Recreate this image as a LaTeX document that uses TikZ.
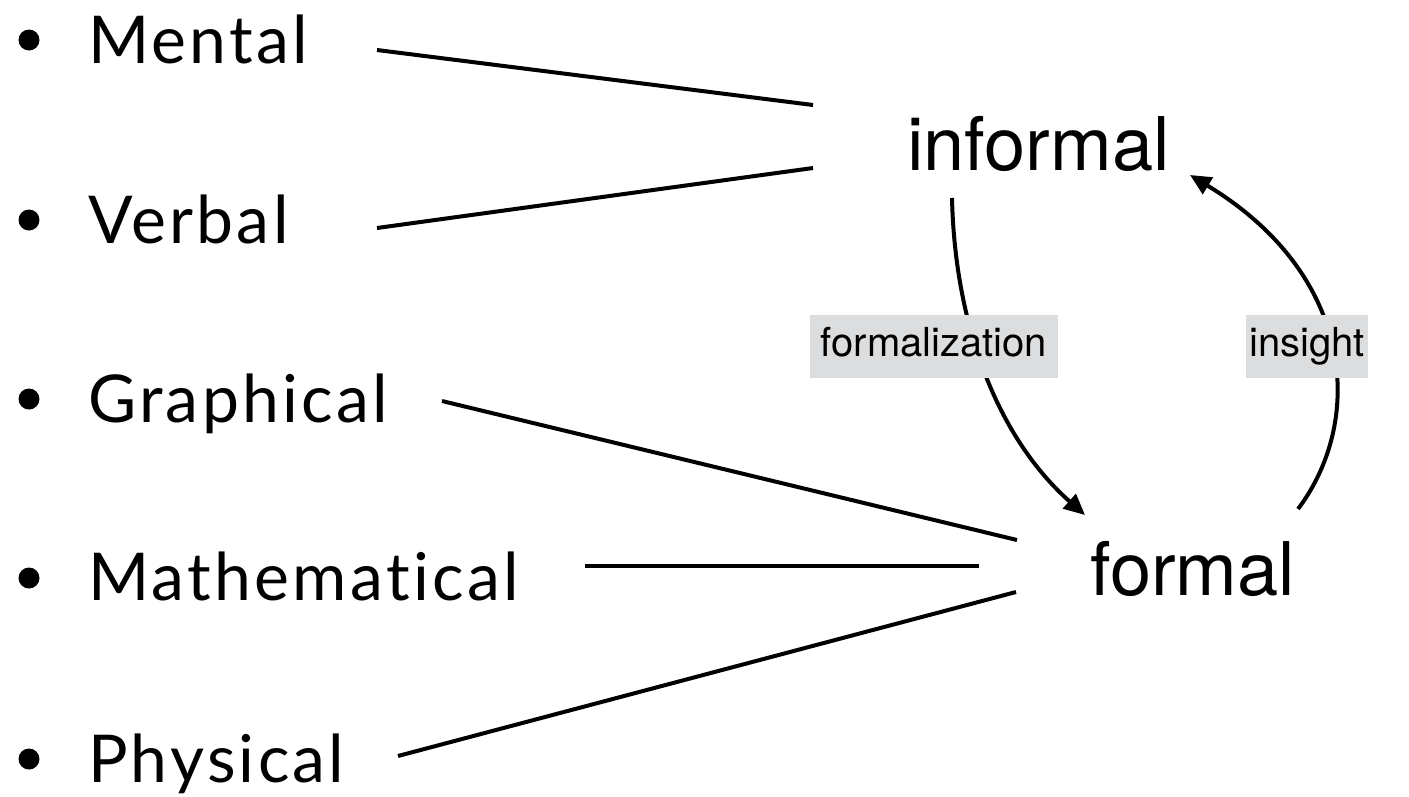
\documentclass[tikz,border=0pt]{standalone}
\usepackage{fontspec}
\setmainfont{TeX Gyre Heros}
\newfontfamily\handfont{Lato}[Ligatures=NoCommon, LetterSpace=5]
\usetikzlibrary{arrows.meta}
\definecolor{tagfill}{HTML}{DCDDDF}
\begin{document}
\begin{tikzpicture}[x=1pt,y=-1pt,
  item/.style={anchor=base west, inner sep=0pt, font=\handfont\fontsize{66}{66}\selectfont},
  dot/.style={circle, fill=black, inner sep=0pt, minimum size=21pt},
  state/.style={anchor=base west, inner sep=0pt, font=\fontsize{74}{74}\selectfont},
  tag/.style={fill=tagfill, inner sep=0pt, minimum height=63pt, text height=29pt, text depth=9pt, font=\fontsize{40}{40}\selectfont},
  link/.style={line width=4pt},
  flow/.style={line width=4pt, -{Triangle[length=21pt,width=19pt]}}]
\useasboundingbox (0,0) rectangle (1409,796);

% bulleted list of representations
\node[dot] (b1) at (29,40) {};
\node[dot] (b2) at (29,220) {};
\node[dot] (b3) at (29,399) {};
\node[dot] (b4) at (29,578) {};
\node[dot] (b5) at (29,759) {};
\node[item] (mental) at (88,63) {Mental};
\node[item] (verbal) at (88,243) {Verbal};
\node[item] (graphical) at (88,422) {Graphical};
\node[item] (mathematical) at (88,600) {Mathematical};
\node[item] (physical) at (88,782) {Physical};

% the two kinds
\node[state] (informal) at (907,170) {informal};
\node[state] (formal) at (1090,595) {formal};

% connector ends
\coordinate (mental-r) at (377,50);
\coordinate (verbal-r) at (377,228);
\coordinate (graphical-r) at (442,401);
\coordinate (mathematical-r) at (585,566);
\coordinate (physical-r) at (398,756);
\coordinate (informal-a) at (813,105);
\coordinate (informal-b) at (813,168);
\coordinate (formal-a) at (1017,540);
\coordinate (formal-b) at (979,566);
\coordinate (formal-c) at (1016,592);
\coordinate (informal-down) at (952,198);
\coordinate (formal-top) at (1085,515);
\coordinate (formal-up) at (1298,509);
\coordinate (informal-side) at (1190,175);

\draw[link] (mental-r) -- (informal-a);
\draw[link] (verbal-r) -- (informal-b);
\draw[link] (graphical-r) -- (formal-a);
\draw[link] (mathematical-r) -- (formal-b);
\draw[link] (physical-r) -- (formal-c);

% formalization and insight cycle
\draw[flow] (informal-down) .. controls (955,330) and (1000,440) .. (formal-top);
\draw[flow] (formal-up) .. controls (1365,420) and (1355,275) .. (informal-side);

\node[tag, minimum width=248pt] (formalization) at (934,346.5) {formalization};
\node[tag, minimum width=122pt] (insight) at (1307,346.5) {insight};
\end{tikzpicture}
\end{document}
